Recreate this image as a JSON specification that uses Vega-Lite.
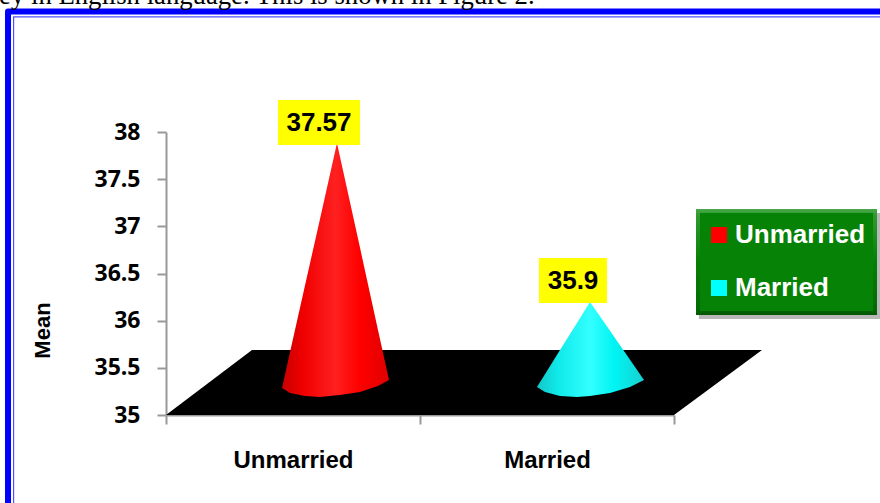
{
"$schema":"https://vega.github.io/schema/vega-lite/v6.json",
"width":508,"height":283,
"autosize":{"type":"none"},
"padding":{"left":166,"top":132,"right":206,"bottom":88},
"background":"white",
"config":{"view":{"stroke":null}},
"datasets":{
"means":[{"status":"Unmarried","mean":37.57},{"status":"Married","mean":35.9}],
"frame":[{"o":1,"x":-0.622,"y":33.9},{"o":2,"x":-0.622,"y":39.277},{"o":3,"x":2.85,"y":39.277}],
"inner":[{"o":1,"x":-0.6,"y":33.9},{"o":2,"x":-0.6,"y":39.221},{"o":3,"x":2.85,"y":39.221}],
"floor":[{"x":0,"y":35,"y2":35},{"x":0.3386,"y":35.689,"y2":35},{"x":2,"y":35.689,"y2":35},{"x":2.3465,"y":35.689,"y2":35.689}],
"coneU":[{"x":0.4567,"y":35.286,"y2":35.286},{"x":0.4882,"y":35.664,"y2":35.233},{"x":0.5472,"y":36.373,"y2":35.201},{"x":0.6063,"y":37.078,"y2":35.191},{"x":0.6732,"y":37.883,"y2":35.209},{"x":0.685,"y":37.738,"y2":35.212},{"x":0.7638,"y":36.772,"y2":35.244},{"x":0.8346,"y":35.902,"y2":35.307},{"x":0.878,"y":35.371,"y2":35.371}],
"coneM":[{"x":1.4606,"y":35.297,"y2":35.297},{"x":1.4921,"y":35.433,"y2":35.244},{"x":1.5512,"y":35.688,"y2":35.201},{"x":1.6181,"y":35.976,"y2":35.191},{"x":1.6693,"y":36.198,"y2":35.201},{"x":1.748,"y":35.892,"y2":35.233},{"x":1.8268,"y":35.585,"y2":35.297},{"x":1.8819,"y":35.371,"y2":35.371}],
"labels":[{"x":0.4409,"x2":0.7638,"y":38.339,"y2":37.862,"xc":0.6024,"yc":38.094,"label":"37.57"},{"x":1.4685,"x2":1.7362,"y":36.664,"y2":36.187,"xc":1.6024,"yc":36.421,"label":"35.9"}],
"caption":[{"x":-0.657,"y":39.36,"text":"ey in English language. This is shown in Figure 2."}],
"shadow":[{"x":2.098,"x2":2.811,"y":37.141,"y2":36.018}],
"edge":[{"x":2.0866,"x2":2.7992,"y":37.184,"y2":36.06}],
"panel":[{"x":2.1024,"x2":2.7835,"y":37.141,"y2":36.103}]
},
"resolve":{"scale":{"x":"independent"},"axis":{"x":"independent"}},
"layer":[
{"data":{"name":"frame"},"mark":{"type":"line","color":"#0000ff","strokeWidth":6,"strokeJoin":"round","clip":false},
 "encoding":{"x":{"field":"x","type":"quantitative","scale":{"domain":[0,2],"nice":false,"zero":false},"axis":null},"y":{"field":"y","type":"quantitative","scale":{"domain":[35,38],"nice":false,"zero":false},"axis":{"values":[35,35.5,36,36.5,37,37.5,38],"format":"~g","grid":false,"title":"Mean","titleX":-112,"titleY":198,"titleFont":"Liberation Sans","titleFontSize":22,"titleFontWeight":"bold","titleColor":"#000000","labelFont":"Open Sans","labelFontSize":23,"labelFontWeight":"bold","labelColor":"#000000","labelPadding":17,"tickSize":9,"tickWidth":2,"tickColor":"#999999","domainColor":"#999999","domainWidth":2}},"order":{"field":"o"}}},
{"data":{"name":"inner"},"mark":{"type":"line","color":"#5050ff","strokeWidth":1.2},
 "encoding":{"x":{"field":"x","type":"quantitative","scale":{"domain":[0,2],"nice":false,"zero":false},"axis":null},"y":{"field":"y","type":"quantitative","scale":{"domain":[35,38],"nice":false,"zero":false}},"order":{"field":"o"}}},
{"data":{"name":"caption"},"mark":{"type":"text","font":"Liberation Serif","fontSize":26.7,"align":"left","baseline":"alphabetic","color":"#000000"},
 "encoding":{"x":{"field":"x","type":"quantitative","scale":{"domain":[0,2],"nice":false,"zero":false},"axis":null},"y":{"field":"y","type":"quantitative","scale":{"domain":[35,38],"nice":false,"zero":false}},"text":{"field":"text"}}},
{"data":{"name":"means"},"mark":{"type":"bar","opacity":0},
 "encoding":{"x":{"field":"status","type":"nominal","sort":null,"scale":{"paddingInner":0,"paddingOuter":0},"axis":{"title":null,"tickBand":"extent","labelAngle":0,"labelFont":"Liberation Sans","labelFontSize":24,"labelFontWeight":"bold","labelColor":"#000000","labelPadding":24,"tickSize":9,"tickWidth":2,"tickColor":"#999999","domainColor":"#999999","domainWidth":2}},
 "y":{"field":"mean","type":"quantitative","scale":{"domain":[35,38],"nice":false,"zero":false}},
 "color":{"field":"status","type":"nominal","sort":null,"scale":{"domain":["Unmarried","Married"],"range":["#ff0000","#00ffff"]},
 "legend":{"title":null,"orient":"none","legendX":540,"legendY":90,"symbolType":"square","symbolSize":256,"symbolOpacity":1,"symbolStrokeWidth":0,"labelFont":"Liberation Sans","labelFontSize":26,"labelFontWeight":"bold","labelColor":"#ffffff","labelLimit":300,"labelOffset":3,"rowPadding":27,"padding":0}}}},
{"data":{"name":"floor"},"mark":{"type":"area","color":"#000000"},
 "encoding":{"x":{"field":"x","type":"quantitative","scale":{"domain":[0,2],"nice":false,"zero":false},"axis":null},"y":{"field":"y","type":"quantitative","scale":{"domain":[35,38],"nice":false,"zero":false}},"y2":{"field":"y2"}}},
{"data":{"name":"coneU"},"mark":{"type":"area","color":{"gradient":"linear","x1":0,"x2":1,"y1":0,"y2":0,"stops":[{"offset":0,"color":"#c80000"},{"offset":0.2,"color":"#f00000"},{"offset":0.5,"color":"#ff2020"},{"offset":0.72,"color":"#ff0000"},{"offset":1,"color":"#e00000"}]}},
 "encoding":{"x":{"field":"x","type":"quantitative","scale":{"domain":[0,2],"nice":false,"zero":false},"axis":null},"y":{"field":"y","type":"quantitative","scale":{"domain":[35,38],"nice":false,"zero":false}},"y2":{"field":"y2"}}},
{"data":{"name":"coneM"},"mark":{"type":"area","color":{"gradient":"linear","x1":0,"x2":1,"y1":0,"y2":0,"stops":[{"offset":0,"color":"#12c8c8"},{"offset":0.2,"color":"#10eaea"},{"offset":0.5,"color":"#33ffff"},{"offset":0.72,"color":"#00f4f4"},{"offset":1,"color":"#18d0d0"}]}},
 "encoding":{"x":{"field":"x","type":"quantitative","scale":{"domain":[0,2],"nice":false,"zero":false},"axis":null},"y":{"field":"y","type":"quantitative","scale":{"domain":[35,38],"nice":false,"zero":false}},"y2":{"field":"y2"}}},
{"data":{"name":"labels"},"mark":{"type":"rect","color":"#ffff00"},
 "encoding":{"x":{"field":"x","type":"quantitative","scale":{"domain":[0,2],"nice":false,"zero":false},"axis":null},"x2":{"field":"x2"},"y":{"field":"y","type":"quantitative","scale":{"domain":[35,38],"nice":false,"zero":false}},"y2":{"field":"y2"}}},
{"data":{"name":"labels"},"mark":{"type":"text","font":"Liberation Sans","fontSize":26,"fontWeight":"bold","color":"#000000","align":"center","baseline":"middle"},
 "encoding":{"x":{"field":"xc","type":"quantitative","scale":{"domain":[0,2],"nice":false,"zero":false},"axis":null},"y":{"field":"yc","type":"quantitative","scale":{"domain":[35,38],"nice":false,"zero":false}},"text":{"field":"label"}}},
{"data":{"name":"shadow"},"mark":{"type":"rect","color":"#b8b8b8"},
 "encoding":{"x":{"field":"x","type":"quantitative","scale":{"domain":[0,2],"nice":false,"zero":false},"axis":null},"x2":{"field":"x2"},"y":{"field":"y","type":"quantitative","scale":{"domain":[35,38],"nice":false,"zero":false}},"y2":{"field":"y2"}}},
{"data":{"name":"edge"},"mark":{"type":"rect","color":{"gradient":"linear","x1":0,"x2":0,"y1":0,"y2":1,"stops":[{"offset":0,"color":"#4aa84a"},{"offset":0.06,"color":"#2f9a2f"},{"offset":0.5,"color":"#067f06"},{"offset":0.94,"color":"#046a04"},{"offset":1,"color":"#035503"}]}},
 "encoding":{"x":{"field":"x","type":"quantitative","scale":{"domain":[0,2],"nice":false,"zero":false},"axis":null},"x2":{"field":"x2"},"y":{"field":"y","type":"quantitative","scale":{"domain":[35,38],"nice":false,"zero":false}},"y2":{"field":"y2"}}},
{"data":{"name":"panel"},"mark":{"type":"rect","color":"#068206"},
 "encoding":{"x":{"field":"x","type":"quantitative","scale":{"domain":[0,2],"nice":false,"zero":false},"axis":null},"x2":{"field":"x2"},"y":{"field":"y","type":"quantitative","scale":{"domain":[35,38],"nice":false,"zero":false}},"y2":{"field":"y2"}}}
]
}
